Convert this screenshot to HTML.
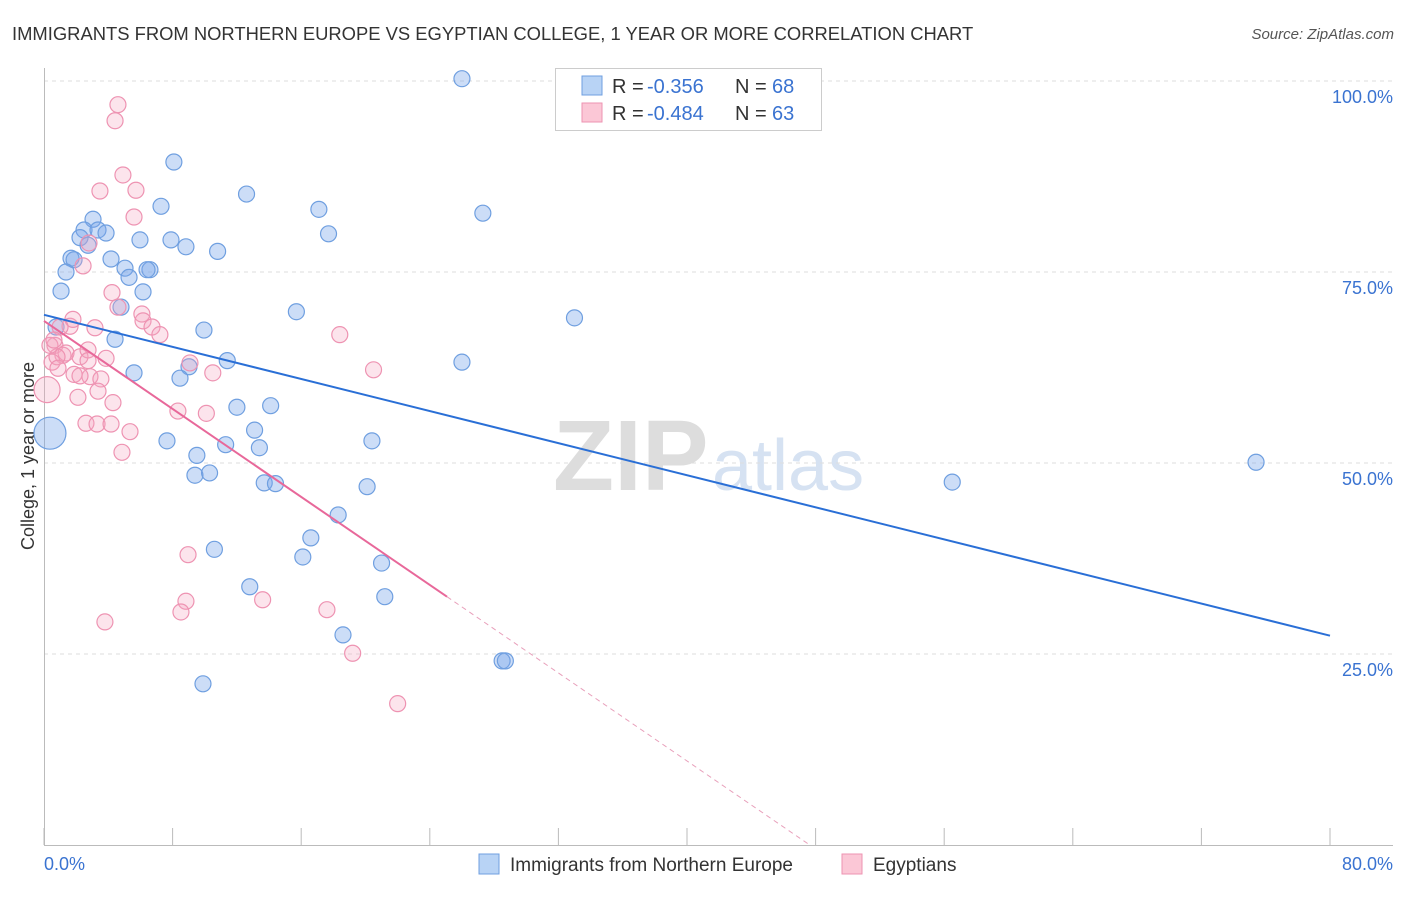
<!DOCTYPE html>
<html><head><meta charset="utf-8"><style>
body{margin:0;background:#fff;font-family:"Liberation Sans",sans-serif;}
svg text{font-family:"Liberation Sans",sans-serif;}
</style></head><body>
<svg id="chart" width="1406" height="892" xmlns="http://www.w3.org/2000/svg">
<text x="12" y="40" font-size="18.4" fill="#333">IMMIGRANTS FROM NORTHERN EUROPE VS EGYPTIAN COLLEGE, 1 YEAR OR MORE CORRELATION CHART</text>
<text x="1394" y="39" font-size="15" fill="#555" font-style="italic" text-anchor="end">Source: ZipAtlas.com</text>
<text x="34" y="456" font-size="18" fill="#333" transform="rotate(-90 34 456)" text-anchor="middle">College, 1 year or more</text>
<text x="553" y="490" font-size="100" fill="#ddd" font-family="Liberation Serif" font-weight="bold">ZIP</text>
<text x="712" y="490" font-size="72" fill="#d6e2f2">atlas</text>
<g id="grid"></g><g id="marks"></g>
<g>
<rect x="555.5" y="68.5" width="266" height="62" fill="#fff" stroke="#ccc"/>
<rect x="582" y="76" width="20" height="19" fill="#b8d3f5" stroke="#6f9fe0"/>
<rect x="582" y="103" width="20" height="19" fill="#fbc7d6" stroke="#ee93b2"/>
<text x="612" y="93" font-size="20" fill="#333">R =</text>
<text x="647" y="93" font-size="20" fill="#3a73d1">-0.356</text>
<text x="735" y="93" font-size="20" fill="#333">N =</text>
<text x="772" y="93" font-size="20" fill="#3a73d1">68</text>
<text x="612" y="120" font-size="20" fill="#333">R =</text>
<text x="647" y="120" font-size="20" fill="#3a73d1">-0.484</text>
<text x="735" y="120" font-size="20" fill="#333">N =</text>
<text x="772" y="120" font-size="20" fill="#3a73d1">63</text>
</g>
<g>
<rect x="479" y="854" width="20" height="20" fill="#b8d3f5" stroke="#6f9fe0"/>
<text x="510" y="871" font-size="19" fill="#333">Immigrants from Northern Europe</text>
<rect x="842" y="854" width="20" height="20" fill="#fbc7d6" stroke="#ee93b2"/>
<text x="873" y="871" font-size="19" fill="#333">Egyptians</text>
</g>
</svg>
<script>
const blueX=[26.0,8.08,12.6,7.28,17.1,27.3,3.05,17.7,2.49,3.36,3.86,2.24,5.97,7.9,8.83,10.8,2.74,4.17,1.68,1.87,5.04,6.59,6.41,1.37,5.29,1.06,6.16,4.79,15.7,33.0,0.75,9.95,4.42,11.4,26.0,9.02,5.6,8.46,12.0,14.1,13.1,20.4,7.65,13.4,11.3,9.51,0.37,75.4,9.39,10.3,56.5,13.7,14.4,20.1,18.3,16.6,10.6,16.1,21.0,12.8,21.2,18.6,28.5,28.7,9.89];
const blueY=[100.3,89.4,85.2,83.6,83.2,82.7,81.9,80.0,80.5,80.5,80.1,79.5,79.2,79.2,78.3,77.7,78.5,76.7,76.8,76.6,75.5,75.3,75.3,75.0,74.3,72.5,72.4,70.4,69.8,69.0,67.8,67.4,66.2,63.4,63.2,62.6,61.8,61.1,57.3,57.5,54.3,52.9,52.9,52.0,52.4,51.0,53.9,50.1,48.4,48.7,47.5,47.4,47.3,46.9,43.2,40.2,38.7,37.7,36.9,33.8,32.5,27.5,24.1,24.1,21.1];
const pinkX=[4.6,4.42,4.91,3.48,5.72,5.6,2.8,2.43,4.23,4.6,6.09,6.16,6.72,7.21,18.4,1.62,1.8,3.17,1.0,0.68,1.18,0.5,1.37,2.24,2.74,0.81,0.87,3.86,9.08,2.74,10.5,1.87,20.5,2.86,3.54,2.24,0.19,3.36,2.11,4.29,8.33,10.1,2.61,3.3,4.17,5.35,4.85,8.96,8.83,8.52,13.6,3.79,17.6,19.2,22.0,0.37,0.62];
const pinkY=[96.9,94.8,87.7,85.6,85.7,82.2,78.8,75.8,72.3,70.4,69.5,68.6,67.8,66.8,66.8,67.9,68.8,67.7,67.8,65.4,64.1,63.2,64.4,63.9,64.8,63.9,62.4,63.7,63.1,63.4,61.8,61.6,62.2,61.3,61.0,61.4,59.6,59.4,58.6,57.9,56.8,56.5,55.2,55.1,55.1,54.1,51.4,38.0,31.9,30.5,32.1,29.2,30.8,25.1,18.5,65.4,66.1];
const blueBig=[46];const pinkBig=[36];
const blueTrend=[69.4,27.4];
const pinkTrend=[68.6,-1.44];
const yTicks=[25,50,75,100];
const xTicks=[0,8,16,24,32,40,48,56,64,72,80];
const NS="http://www.w3.org/2000/svg";
const X=v=>44+v*16.075, Y=v=>845-v*7.64;
const grid=document.getElementById('grid'), marks=document.getElementById('marks');
function mk(tag,at,parent){const e=document.createElementNS(NS,tag);for(const k in at)e.setAttribute(k,at[k]);parent.appendChild(e);return e;}
yTicks.forEach(t=>{
 const l=mk('line',{x1:44,x2:1393,y1:Y(t),y2:Y(t),stroke:'#ddd','stroke-dasharray':'4,4'},grid);
 
 
 const tx=mk('text',{x:1393,y:Y(t)+22,'font-size':18,fill:'#3a73d1','text-anchor':'end'},grid);tx.textContent=t.toFixed(1)+'%';
 
 
});
const ax=mk('line',{x1:44,x2:1393,y1:845.5,y2:845.5,stroke:'#bbb'},grid);


const ay=mk('line',{x1:44.5,x2:44.5,y1:68,y2:845,stroke:'#bbb'},grid);


xTicks.forEach(t=>{
 const l=mk('line',{x1:X(t),x2:X(t),y1:828,y2:845,stroke:'#bbb'},grid);
 
 
});
[[0,'start'],[80,'end']].forEach(([t,a])=>{
 const tx=mk('text',{x:t==0?44:1393,y:870,'font-size':18,fill:'#3a73d1','text-anchor':a},grid);tx.textContent=t.toFixed(1)+'%';
 
 
});
blueX.forEach((v,i)=>{
 const c=mk('circle',{cx:X(v),cy:Y(blueY[i]),r:blueBig.includes(i)?16:8,fill:'rgba(120,165,235,0.38)',stroke:'#6f9fe0','stroke-width':1.2},marks);
 
 
});
pinkX.forEach((v,i)=>{
 const c=mk('circle',{cx:X(v),cy:Y(pinkY[i]),r:pinkBig.includes(i)?13:8,fill:'rgba(245,165,192,0.3)',stroke:'#ee93b2','stroke-width':1.2},marks);
 
 
});
const bl=mk('line',{x1:X(0),y1:Y(blueTrend[0]),x2:X(80),y2:Y(blueTrend[1]),stroke:'#2a6fd6','stroke-width':2},marks);


const pe=25.07, pz=-pinkTrend[0]/pinkTrend[1];
const pl=mk('line',{x1:X(0),y1:Y(pinkTrend[0]),x2:X(pe),y2:Y(pinkTrend[0]+pinkTrend[1]*pe),stroke:'#e8689a','stroke-width':2},marks);


const pd=mk('line',{x1:X(pe),y1:Y(pinkTrend[0]+pinkTrend[1]*pe),x2:X(pz),y2:Y(0),stroke:'#e8a0bb','stroke-width':1,'stroke-dasharray':'5,4'},marks);


</script>
</body></html>
